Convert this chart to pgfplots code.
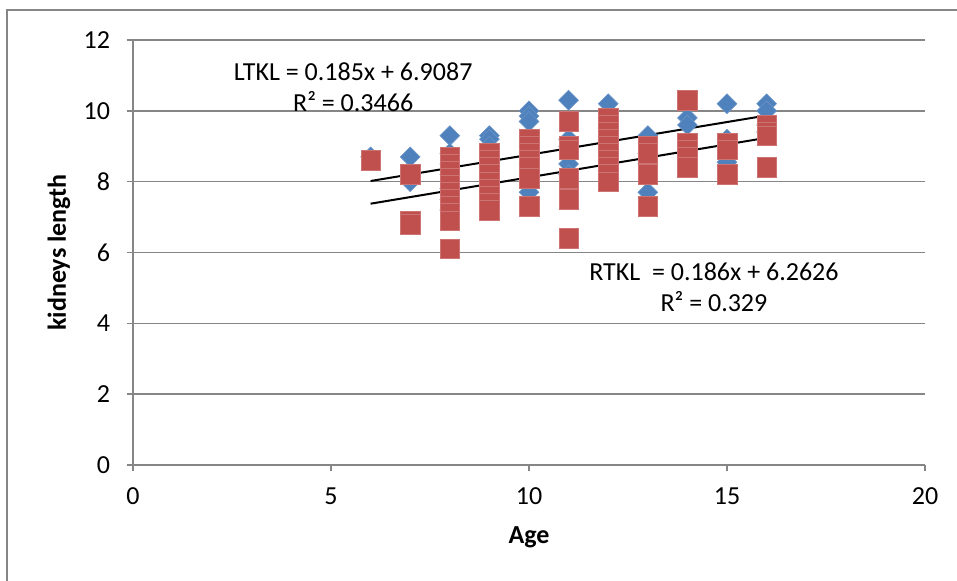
\documentclass[border=0pt]{standalone}
\usepackage{pgfplots}
\pgfplotsset{compat=1.18}
\usepackage{pgfplotstable}
\usepackage{fontspec}
\setmainfont{Carlito}
\definecolor{axisgray}{RGB}{134,134,134}
\definecolor{exblue}{RGB}{79,129,189}
\definecolor{exred}{RGB}{192,80,77}

% LTKL (left kidney)
\pgfplotstableread{
age len
6 8.7
7 8.7
7 8.0
8 9.3
8 8.8
8 8.5
8 8.2
8 8.0
8 7.8
8 7.5
8 7.2
9 9.3
9 9.2
9 9.0
9 8.7
9 8.4
9 8.0
9 7.6
10 10.0
10 9.85
10 9.7
10 9.2
10 9.0
10 8.8
10 8.5
10 8.2
10 7.7
11 10.3
11 9.2
11 9.0
11 8.5
11 8.2
12 10.2
12 9.8
12 9.5
12 9.2
12 9.0
12 8.8
12 8.5
12 8.2
13 9.3
13 8.8
13 8.5
13 7.7
14 9.8
14 9.6
14 9.0
14 8.7
15 10.2
15 9.2
15 9.0
15 8.55
16 10.2
16 10.0
16 9.6
16 9.4
}\ltkl

% RTKL (right kidney)
\pgfplotstableread{
age len
6 8.6
7 8.2
7 6.9
7 6.8
8 8.7
8 8.5
8 8.3
8 8.1
8 7.9
8 7.7
8 7.5
8 7.3
8 7.1
8 6.9
8 6.1
9 8.8
9 8.6
9 8.4
9 8.2
9 8.0
9 7.8
9 7.6
9 7.4
9 7.2
10 9.2
10 9.0
10 8.8
10 8.6
10 8.4
10 8.1
10 7.3
11 9.7
11 9.0
11 8.9
11 8.1
11 7.5
11 6.4
12 9.8
12 9.6
12 9.4
12 9.2
12 9.0
12 8.8
12 8.6
12 8.4
12 8.2
12 8.0
13 9.0
13 8.8
13 8.2
13 7.3
14 10.3
14 9.1
14 8.9
14 8.7
14 8.4
15 9.1
15 8.9
15 8.2
16 9.6
16 9.4
16 9.3
16 8.4
}\rtkl

\begin{document}
\begin{tikzpicture}[font=\fontsize{13}{15.6}\selectfont]
\useasboundingbox (-66.5pt,-57.5pt) rectangle (412pt,232.5pt);
\draw[axisgray, line width=0.8pt] (-63pt,-60pt) -- (-63pt,227.5pt) -- (415pt,227.5pt);
\begin{axis}[
  at={(0,0)}, anchor=south west,
  width=396pt, height=212.5pt, scale only axis,
  xmin=0, xmax=20, ymin=0, ymax=12,
  xtick={0,5,...,20}, ytick={0,2,...,12},
  axis x line*=bottom, axis y line*=left,
  axis line style={draw=axisgray, line width=0.8pt, -},
  ymajorgrids, grid style={draw=axisgray, line width=0.8pt},
  tick align=outside, tick style={draw=axisgray, line width=0.8pt},
  major tick length=3pt,
  /pgf/number format/assume math mode=true,
  xticklabel style={yshift=-5pt},
  yticklabel style={xshift=-5pt},
  xlabel={\bfseries Age},
  ylabel={\bfseries kidneys length},
  xlabel style={at={([yshift=-36pt]rel axis cs:0.5,0)}, anchor=center},
  ylabel style={at={([xshift=-37pt]rel axis cs:0,0.5)}, anchor=center, rotate=0},
  clip=false,
]
\addplot[only marks, mark=square*, mark size=3.5pt,
  mark options={rotate=45, fill=exblue, draw=exblue!85!white, line width=0.3pt}]
  table[x=age, y=len] {\ltkl};
\addplot[only marks, mark=square*, mark size=4.9pt,
  mark options={fill=exred, draw=exred!80!white, line width=0.3pt}]
  table[x=age, y=len] {\rtkl};
\addplot[black, line width=1pt, no marks] coordinates {(6,8.0187) (16,9.8687)};
\addplot[black, line width=1pt, no marks] coordinates {(6,7.3786) (16,9.2386)};
\node[align=center, font=\fontsize{13}{15.5}\selectfont] at (axis cs:5.56,10.67) {LTKL = 0.185x + 6.9087\\R² = 0.3466};
\node[align=center, font=\fontsize{13}{15.5}\selectfont] at (axis cs:14.67,5.03) {RTKL \ = 0.186x + 6.2626\\R² = 0.329};
\end{axis}
\end{tikzpicture}
\end{document}
